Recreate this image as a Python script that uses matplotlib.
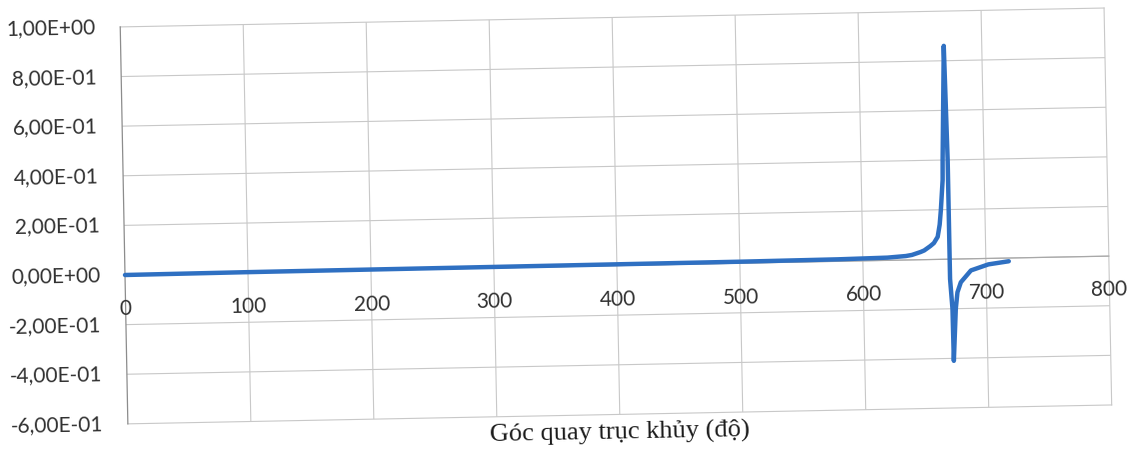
import numpy as np
import matplotlib
matplotlib.use("Agg")
import matplotlib.pyplot as plt
from matplotlib.transforms import Affine2D
from matplotlib.ticker import FuncFormatter
import mpl_toolkits.axisartist.floating_axes as floating_axes
from mpl_toolkits.axisartist.grid_finder import FixedLocator

# Crank angle (degrees) and the plotted quantity
angle = [0, 100, 200, 300, 400, 500, 580, 620, 635, 640, 647, 650, 655, 658,
         661.2, 663, 664.2, 666.1, 666.4, 667.7, 669.1, 670.5, 670.6, 672.1,
         672.4, 674.8, 676.4, 679.3, 687.7, 702, 718.6]
value = [0.0, 0.002, 0.003, 0.004, 0.005, 0.006, 0.008, 0.011, 0.016, 0.020,
         0.031, 0.037, 0.054, 0.066, 0.091, 0.14, 0.199, 0.32, 0.40, 0.62,
         0.86, 0.40, -0.08, -0.20, -0.41, -0.20, -0.134, -0.094, -0.047,
         -0.024, -0.013]

x_ticks = [0, 100, 200, 300, 400, 500, 600, 700, 800]
y_ticks = [-0.6, -0.4, -0.2, 0.0, 0.2, 0.4, 0.6, 0.8, 1.0]
x_title = "Góc quay trục khủy (độ)"

W_PX, H_PX, DPI = 1141, 454, 100
fig = plt.figure(figsize=(W_PX / DPI, H_PX / DPI), dpi=DPI)
fig.patch.set_facecolor("white")

# plot frame slightly tilted, sized in pixels
tilt = 1.1
sx = 984 / (x_ticks[-1] - x_ticks[0])
sy = 397 / (y_ticks[-1] - y_ticks[0])
tr = Affine2D().scale(sx, sy).rotate_deg(tilt)

corners = tr.transform([[x_ticks[0], y_ticks[0]], [x_ticks[-1], y_ticks[0]],
                        [x_ticks[0], y_ticks[-1]], [x_ticks[-1], y_ticks[-1]]])
(bx0, by0), (bx1, by1) = corners.min(0), corners.max(0)
cx, cy = (bx0 + bx1) / 2, (by0 + by1) / 2
bw, bh = (bx1 - bx0) * 1.02, (by1 - by0) * 1.02
origin = (125.0, 179.0)  # pixel position of (0, 0), from the lower left
rect = [(origin[0] + cx - bw / 2) / W_PX, (origin[1] + cy - bh / 2) / H_PX,
        bw / W_PX, bh / H_PX]

fmt_x = FuncFormatter(lambda v, pos: f"{v:.0f}")
fmt_y = FuncFormatter(lambda v, pos: f"{v:.2E}".replace(".", ","))

helper = floating_axes.GridHelperCurveLinear(
    tr, extremes=(x_ticks[0], x_ticks[-1], y_ticks[0], y_ticks[-1]),
    grid_locator1=FixedLocator(x_ticks), grid_locator2=FixedLocator(y_ticks),
    tick_formatter1=fmt_x, tick_formatter2=fmt_y)

ax = fig.add_axes(rect, axes_class=floating_axes.FloatingAxes, grid_helper=helper)
ax.patch.set_facecolor("white")
ax.grid(True, color="#c8c8c8", linewidth=0.8)

label_font = dict(family="Lato", size=15, color="#303030")

for name in ["left", "right", "top", "bottom"]:
    a = ax.axis[name]
    a.major_ticks.set_visible(False)
    a.minor_ticks.set_visible(False)
    a.line.set_color("#c8c8c8")
    a.line.set_linewidth(0.8)
    a.label.set_visible(False)
ax.axis["bottom"].major_ticklabels.set_visible(False)
ax.axis["left"].line.set_color("#8c8c8c")
ax.axis["left"].line.set_linewidth(0.9)
ax.axis["left"].major_ticklabels.set(**label_font)
ax.axis["left"].major_ticklabels.set_pad(17.5)

# horizontal axis crossing at zero, carrying the angle labels
ax.axis["zero"] = zero = ax.new_floating_axis(1, 0.0)
zero.major_ticks.set_visible(False)
zero.minor_ticks.set_visible(False)
zero.line.set_color("#a8a8a8")
zero.line.set_linewidth(0.9)
zero.label.set_visible(False)
zero.major_ticklabels.set(**label_font)
zero.major_ticklabels.set_pad(18)

aux = ax.get_aux_axes(tr)
aux.plot(angle, value, color="#2f70c2", linewidth=3.2,
         solid_joinstyle="round", solid_capstyle="round", zorder=5)

fig.text(620 / W_PX, 1 - 433 / H_PX, x_title, family="Liberation Serif",
         size=19, color="#1a1a1a", ha="center", va="center", rotation=tilt)

fig.savefig("out.png", dpi=DPI, facecolor="white")
